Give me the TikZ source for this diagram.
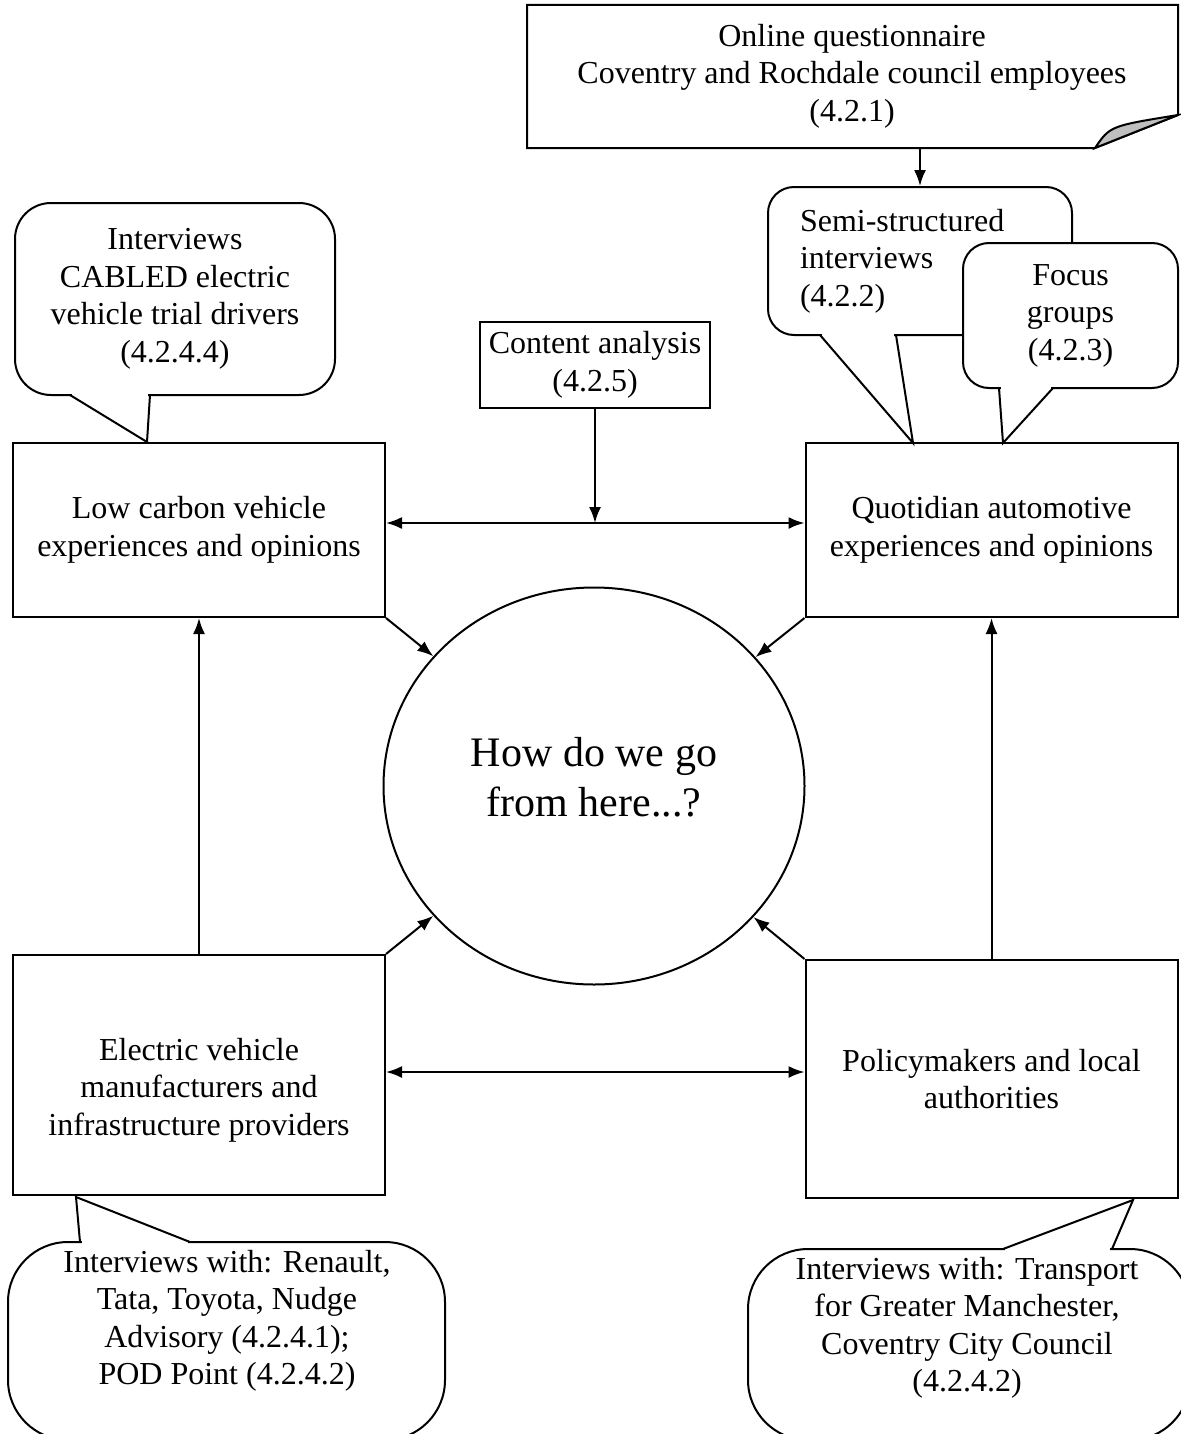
\documentclass[tikz,border=0pt]{standalone}
\usepackage{fontspec}
\setmainfont{Liberation Serif}
\usetikzlibrary{arrows.meta,shapes.geometric}

\begin{document}
\begin{tikzpicture}[x=0.5pt,y=-0.5pt,line width=1pt,
    >={Latex[length=8pt,width=6pt]},
    every node/.style={font=\fontsize{16}{18.75}\selectfont},
    box/.style={draw,align=center,minimum width=186pt},
    txt/.style={align=center,inner sep=0pt},
    bubble/.style={draw,fill=white,align=center}]
    \useasboundingbox (0,0) rectangle (1180,1434);

    % questionnaire with folded corner
    \draw (527,5) -- (1178,5) -- (1178,115) -- (1095,148) -- (527,148) -- cycle;
    \filldraw[fill=black!25] (1095,148) .. controls (1110,126) .. (1178,115) -- cycle;
    \node[txt] (quest) at (852,76) {Online questionnaire\\Coventry and Rochdale council employees\\(4.2.1)};
    \coordinate (qfoot) at (920,148);

    % speech bubbles: body, then tail
    \node[bubble,rounded corners=13pt,align=left,text width=120pt,inner xsep=16pt,
        minimum width=152pt,minimum height=74pt] (semi) at (920,261) {Semi-structured\\interviews\\(4.2.2)};
    \fill[white] (822,333) rectangle (894,337);
    \draw (820,335) -- (913,443) -- (896,335);
    \node[bubble,rounded corners=13pt,minimum width=107.5pt,minimum height=72.5pt] (focus) at (1070.5,315.5) {Focus\\groups\\(4.2.3)};
    \fill[white] (1001,386) rectangle (1051,390);
    \draw (999,388) -- (1003,443) -- (1053,388);
    \node[bubble,rounded corners=18pt,minimum width=160pt,minimum height=96pt] (cabled) at (175,299) {Interviews\\CABLED electric\\vehicle trial drivers\\(4.2.4.4)};
    \fill[white] (72,393) rectangle (148,397);
    \draw (70,395) -- (147,442) -- (150,395);
    \node[bubble,rounded corners=30pt,minimum width=218.5pt,minimum height=99pt] (makers) at (226.5,1341) {};
    \fill[white] (82,1240) rectangle (188,1244);
    \draw (80,1242) -- (76,1197) -- (190,1242);
    \node[bubble,rounded corners=30pt,minimum width=221pt,minimum height=95.5pt] (officials) at (969,1344.5) {};
    \fill[white] (1005,1247) rectangle (1110,1251);
    \draw (1003,1249) -- (1133,1200) -- (1112,1249);
    \node[txt] (makerstext) at (227,1321) {Interviews with: Renault,\\Tata, Toyota, Nudge\\Advisory (4.2.4.1);\\POD Point (4.2.4.2)};
    \node[txt] (officialstext) at (967,1328) {Interviews with: Transport\\for Greater Manchester,\\Coventry City Council\\(4.2.4.2)};

    % main boxes
    \node[draw,align=center,minimum width=115pt,minimum height=43pt] (content) at (595,365) {Content analysis\\(4.2.5)};
    \node[box,minimum height=87pt] (lowcarbon) at (199,530) {Low carbon vehicle\\experiences and opinions};
    \node[box,minimum height=87pt] (quotidian) at (991.5,530) {Quotidian automotive\\experiences and opinions};
    \node[box,minimum height=120pt,text height=63.5pt] (ev) at (199,1075) {Electric vehicle\\manufacturers and\\infrastructure providers};
    \node[box,minimum height=119pt] (policy) at (991.5,1079) {Policymakers and local\\authorities};
    \node[draw,ellipse,minimum width=210.5pt,minimum height=198.5pt,align=center,text depth=9pt,
        font=\fontsize{21}{25}\selectfont] (question) at (594,786) {How do we go\\from here...?};

    \draw[->] (qfoot) -- (qfoot |- semi.north);
    \draw[<->] ([yshift=3.5pt]lowcarbon.east) -- ([yshift=3.5pt]quotidian.west);
    \draw[->] (content.south) -- ([yshift=3.5pt]content.south |- lowcarbon.east);
    \draw[->] (lowcarbon.south east) -- (question);
    \draw[->] (quotidian.south west) -- (question);
    \draw[->] (ev.north east) -- (question);
    \draw[->] (policy.north west) -- (question);
    \draw[->] (ev.north) -- (lowcarbon.south);
    \draw[->] (policy.north) -- (quotidian.south);
    \draw[<->] ([yshift=1.5pt]ev.east) -- ([yshift=1.5pt]ev.east -| policy.west);
\end{tikzpicture}
\end{document}
